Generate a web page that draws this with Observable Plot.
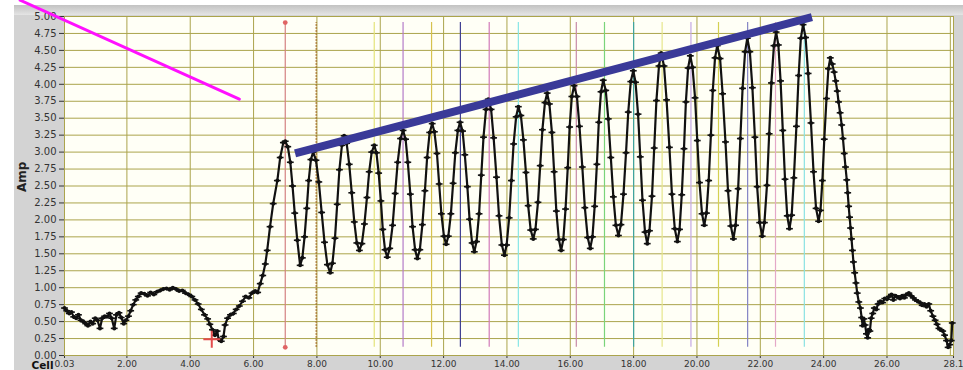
<!DOCTYPE html>
<html>
<head>
<meta charset="utf-8">
<script src="https://cdn.jsdelivr.net/npm/d3@7"></script>
<script src="https://cdn.jsdelivr.net/npm/@observablehq/plot@0.6"></script>
<style>
  html, body { margin: 0; padding: 0; background: #fff; overflow: hidden; }
  #wrap { position: relative; width: 963px; height: 370px; }
  #panel { position: absolute; left: 14px; top: 5px; right: 0; bottom: 0; background: #d3d3d3; }
  #panel::before { content: ""; position: absolute; left: 0; right: 0; top: 0; height: 10px;
                   background: linear-gradient(#c2c2c2, #e4e4e4); }
  #chart { position: absolute; left: 0; top: 0; }
  #chart svg { overflow: hidden; }
  g[aria-label^="x-axis"] text { font-size: 9px; }
  g[aria-label^="y-axis"] text { font-size: 10px; }
</style>
</head>
<body>
<div id="wrap"><div id="panel"></div><div id="chart"></div></div>
<script>
// Amplitude per cell: low baseline, burst of peaks, tail
const baseCell = [0.03,0.10,0.18,0.25,0.32,0.40,0.47,0.55,0.62,0.70,0.77,0.85,0.92,1.00,1.07,1.15,1.22,1.30,1.37,1.45,
  1.52,1.60,1.67,1.75,1.82,1.90,1.97,2.05,2.12,2.20,2.28,2.36,2.45,2.55,2.65,2.75,2.85,2.95,3.05,3.15,
  3.25,3.35,3.45,3.55,3.65,3.75,3.85,3.95,4.05,4.15,4.25,4.35,4.45,4.55,4.62,4.70,4.78,4.85,4.90,4.98,
  5.05,5.10,5.18,5.27,5.36,5.45,5.55,5.65,5.75,5.85,5.95,6.05,6.13,6.21,6.29,6.37,6.43,6.52,6.62,6.75,
  6.84,6.94];
const baseAmp = [0.70,0.66,0.62,0.64,0.57,0.55,0.60,0.52,0.50,0.47,0.44,0.50,0.47,0.55,0.52,0.40,0.55,0.58,0.57,0.62,
  0.55,0.40,0.60,0.63,0.56,0.47,0.52,0.58,0.66,0.75,0.82,0.87,0.92,0.91,0.88,0.93,0.90,0.94,0.96,0.98,
  0.99,0.97,1.00,0.98,0.95,0.96,0.92,0.90,0.87,0.82,0.76,0.68,0.60,0.54,0.46,0.38,0.30,0.36,0.24,0.21,
  0.28,0.45,0.55,0.60,0.62,0.68,0.73,0.80,0.87,0.85,0.92,0.95,0.93,1.06,1.18,1.35,1.55,1.90,2.24,2.58,
  2.92,3.14];

const burstCell = [
  7.00,7.08,7.16,7.23,7.30,7.38,   7.47,7.54,7.61,7.68,7.74,7.81,
  7.88,7.97,8.06,8.15,8.24,8.33,   8.42,8.49,8.57,8.64,8.71,8.79,
  8.86,8.94,9.02,9.10,9.18,9.26,   9.34,9.42,9.50,9.58,9.65,9.73,
  9.81,9.88,9.95,10.02,10.08,10.15, 10.22,10.30,10.39,10.47,10.55,10.64,
  10.72,10.80,10.87,10.95,11.02,11.10, 11.17,11.25,11.33,11.41,11.48,11.56,
  11.64,11.71,11.79,11.86,11.93,12.01, 12.08,12.15,12.23,12.30,12.37,12.45,
  12.52,12.60,12.67,12.75,12.82,12.90, 12.97,13.04,13.12,13.19,13.26,13.34,
  13.41,13.50,13.58,13.67,13.75,13.84, 13.92,13.99,14.07,14.14,14.21,14.29,
  14.36,14.44,14.52,14.60,14.67,14.75, 14.83,14.90,14.98,15.05,15.12,15.20,
  15.27,15.34,15.42,15.49,15.56,15.64, 15.71,15.78,15.85,15.92,15.98,16.05,
  16.12,16.21,16.29,16.38,16.46,16.55, 16.63,16.70,16.77,16.84,16.90,16.97,
  17.04,17.12,17.20,17.28,17.36,17.44, 17.52,17.60,17.68,17.76,17.83,17.91,
  17.99,18.06,18.14,18.21,18.28,18.36, 18.43,18.50,18.58,18.65,18.72,18.80,
  18.87,18.96,19.04,19.13,19.21,19.30, 19.38,19.45,19.52,19.59,19.65,19.72,
  19.79,19.86,19.94,20.01,20.08,20.16, 20.23,20.30,20.37,20.44,20.50,20.57,
  20.64,20.73,20.81,20.90,20.98,21.07, 21.15,21.22,21.30,21.37,21.44,21.52,
  21.59,21.67,21.75,21.83,21.90,21.98, 22.06,22.13,22.21,22.28,22.35,22.43,
  22.50,22.57,22.64,22.71,22.78,22.85, 22.92,22.99,23.06,23.14,23.21,23.28,
  23.35,23.43,23.51,23.60,23.68,23.76, 23.84,23.90,23.96,24.02,24.09,24.15];
const burstAmp = [
  3.16,3.08,2.85,2.50,2.10,1.70,   1.33,1.44,1.75,2.17,2.58,2.89,
  3.00,2.88,2.56,2.11,1.67,1.34,   1.22,1.36,1.73,2.23,2.74,3.10,
  3.24,3.13,2.82,2.40,1.97,1.66,   1.55,1.65,1.94,2.33,2.71,3.00,
  3.10,2.99,2.69,2.28,1.86,1.56,   1.45,1.58,1.92,2.39,2.85,3.20,
  3.32,3.19,2.85,2.38,1.90,1.56,   1.43,1.56,1.93,2.43,2.92,3.29,
  3.42,3.30,2.98,2.53,2.09,1.76,   1.64,1.76,2.09,2.54,2.99,3.32,
  3.44,3.31,2.96,2.49,2.01,1.66,   1.53,1.68,2.09,2.66,3.22,3.63,
  3.78,3.63,3.21,2.63,2.06,1.63,   1.48,1.63,2.03,2.58,3.12,3.52,
  3.67,3.54,3.18,2.70,2.21,1.85,   1.72,1.86,2.26,2.80,3.33,3.73,
  3.87,3.71,3.29,2.71,2.13,1.71,   1.55,1.71,2.16,2.77,3.37,3.82,
  3.98,3.82,3.38,2.78,2.18,1.74,   1.58,1.75,2.20,2.82,3.44,3.89,
  4.06,3.91,3.49,2.92,2.34,1.92,   1.77,1.93,2.38,2.99,3.59,4.04,
  4.20,4.03,3.56,2.93,2.29,1.82,   1.65,1.84,2.35,3.06,3.76,4.27,
  4.46,4.27,3.77,3.07,2.38,1.87,   1.68,1.86,2.37,3.05,3.74,4.24,
  4.42,4.25,3.80,3.17,2.55,2.09,   1.92,2.10,2.58,3.25,3.91,4.39,
  4.57,4.38,3.86,3.15,2.43,1.91,   1.72,1.92,2.46,3.20,3.94,4.48,
  4.68,4.48,3.95,3.22,2.49,1.96,   1.76,1.96,2.51,3.27,4.02,4.57,
  4.77,4.58,4.05,3.32,2.60,2.06,   1.87,2.07,2.62,3.38,4.13,4.68,
  4.88,4.69,4.16,3.43,2.71,2.17,   1.98,2.14,2.58,3.19,3.79,4.23];

const tailCell = [24.21,24.27,24.33,24.38,24.43,24.47,24.52,24.57,24.61,24.65,24.69,24.73,24.76,24.79,24.82,24.85,
  24.88,24.91,24.94,24.98,25.02,25.06,25.11,25.16,25.20,25.23,25.27,25.31,25.35,25.39,25.42,25.46,
  25.50,25.55,25.60,25.66,25.72,25.79,25.86,25.93,26.00,26.07,26.14,26.20,26.27,26.34,26.41,26.48,
  26.55,26.62,26.69,26.76,26.83,26.90,26.97,27.04,27.11,27.18,27.25,27.32,27.38,27.45,27.52,27.58,
  27.64,27.70,27.76,27.82,27.88,27.93,27.98,28.03,28.06];
const tailAmp = [4.39,4.30,4.18,4.05,3.90,3.74,3.58,3.40,3.20,2.98,2.78,2.59,2.40,2.20,2.04,1.88,
  1.72,1.55,1.38,1.22,1.07,0.92,0.79,0.70,0.56,0.44,0.54,0.45,0.32,0.26,0.38,0.36,
  0.55,0.62,0.70,0.68,0.76,0.80,0.78,0.84,0.83,0.87,0.90,0.82,0.88,0.86,0.84,0.88,
  0.85,0.90,0.92,0.88,0.85,0.82,0.80,0.78,0.74,0.76,0.72,0.76,0.66,0.58,0.52,0.46,
  0.40,0.38,0.36,0.30,0.22,0.12,0.16,0.22,0.48];

// Cursors placed on the peaks
const cursorCell  = [9.81, 10.72, 11.62, 12.53, 13.44, 14.36, 16.19, 17.08, 18.00, 18.90, 19.81, 20.68, 21.60, 22.48, 23.39];
const cursorColor = ["#e4e47a", "#b47cc8", "#d6c24e", "#3e3e92", "#d27ab8", "#86e6e6", "#c88aa8", "#7ad47a", "#3ea4a0",
                     "#e6e68c", "#c4a8e4", "#d4d052", "#8484c4", "#e4a8c8", "#8ae2e2"];
const cursorSpan = [0.12, 4.91];
const refCell = 7.00;      // red reference cursor
const dottedCell = 7.98;   // dotted cursor
const markerCell = [4.68], markerAmp = [0.24];

// Annotation strokes
const trendCell = [7.31, 23.63], trendAmp = [2.98, 4.99];
const pointerCell = [-1.37, 5.55], pointerAmp = [5.24, 3.78];

// Axes
const ampTicks = [0, 0.25, 0.5, 0.75, 1, 1.25, 1.5, 1.75, 2, 2.25, 2.5, 2.75, 3, 3.25, 3.5, 3.75, 4, 4.25, 4.5, 4.75, 5];
const cellTicks = [0.03, 2, 4, 6, 8, 10, 12, 14, 16, 18, 20, 22, 24, 26, 28.1];
const cellTickLabels = ["0.03", "2.00", "4.00", "6.00", "8.00", "10.00", "12.00", "14.00", "16.00", "18.00",
                        "20.00", "22.00", "24.00", "26.00", "28.1"];
const cellGrid = [2, 4, 6, 8, 10, 12, 14, 16, 18, 20, 22, 24, 26, 28];

const series = [
  ...baseCell.map((c, i) => ({cell: c, amp: baseAmp[i]})),
  ...burstCell.map((c, i) => ({cell: c, amp: burstAmp[i]})),
  ...tailCell.map((c, i) => ({cell: c, amp: tailAmp[i]}))
];
const cursors = cursorCell.map((c, i) => ({cell: c, color: cursorColor[i]}));
const trend = trendCell.map((c, i) => ({cell: c, amp: trendAmp[i]}));
const pointer = pointerCell.map((c, i) => ({cell: c, amp: pointerAmp[i]}));
const markers = markerCell.map((c, i) => ({cell: c, amp: markerAmp[i]}));
const tickLabel = new Map(cellTicks.map((t, i) => [t, cellTickLabels[i]]));

// small horizontal bar drawn at each sample
const bar = {draw(ctx, size) { const r = Math.sqrt(size / Math.PI); ctx.moveTo(-r, 0); ctx.lineTo(r, 0); }};

const grid = "#aba44c";
const chart = Plot.plot({
  width: 963, height: 370,
  marginLeft: 64, marginRight: 10, marginTop: 16, marginBottom: 15,
  style: {background: "transparent", fontFamily: "'DejaVu Sans', sans-serif", fontSize: "10px", color: "#333"},
  color: {type: "identity"},
  x: {domain: [0.03, 28.1], ticks: cellTicks, tickFormat: d => tickLabel.get(d), tickSize: 3, tickPadding: 2, label: null},
  y: {domain: [0, 5], ticks: ampTicks, tickFormat: d3.format(".2f"), tickSize: 5, tickPadding: 3, label: null},
  marks: [
    Plot.frame({fill: "#fffff6", stroke: grid}),
    Plot.ruleY(ampTicks, {stroke: grid, strokeWidth: 1}),
    Plot.ruleX(cellGrid, {stroke: grid, strokeWidth: 1}),
    Plot.ruleX(cursors, {x: "cell", y1: cursorSpan[0], y2: cursorSpan[1], stroke: "color", strokeWidth: 1.2}),
    Plot.ruleX([dottedCell], {y1: cursorSpan[0], y2: cursorSpan[1], stroke: "#a8702c", strokeWidth: 1.6, strokeDasharray: "1.5,1.5"}),
    Plot.ruleX([refCell], {y1: cursorSpan[0], y2: cursorSpan[1], stroke: "#d48080", strokeWidth: 1.2}),
    Plot.dot(cursorSpan, {x: () => refCell, y: d => d, r: 2.4, fill: "#e06464"}),
    Plot.line(series, {x: "cell", y: "amp", stroke: "#111", strokeWidth: 2.2}),
    Plot.dot(series, {x: "cell", y: "amp", r: 2, fill: "#111"}),
    Plot.dot(series, {x: "cell", y: "amp", symbol: bar, r: 3.4, fill: "none", stroke: "#111", strokeWidth: 1.6}),
    Plot.dot(markers, {x: "cell", y: "amp", symbol: "plus", r: 5.5, stroke: "#e44c4c", strokeWidth: 2}),
    Plot.line(trend, {x: "cell", y: "amp", stroke: "#3a3a98", strokeWidth: 8, strokeLinecap: "butt"}),
    Plot.line(pointer, {x: "cell", y: "amp", stroke: "#ff10ff", strokeWidth: 3}),
    Plot.text(["Amp"], {frameAnchor: "left", dx: -42, dy: 6, rotate: -90, fontWeight: "bold", fontSize: 12, fill: "#222"}),
    Plot.text(["Cell"], {frameAnchor: "bottom-left", dx: -11, dy: 13, textAnchor: "end", fontWeight: "bold", fontSize: 10.5, fill: "#111"})
  ]
});
document.getElementById("chart").appendChild(chart);
</script>
</body>
</html>
